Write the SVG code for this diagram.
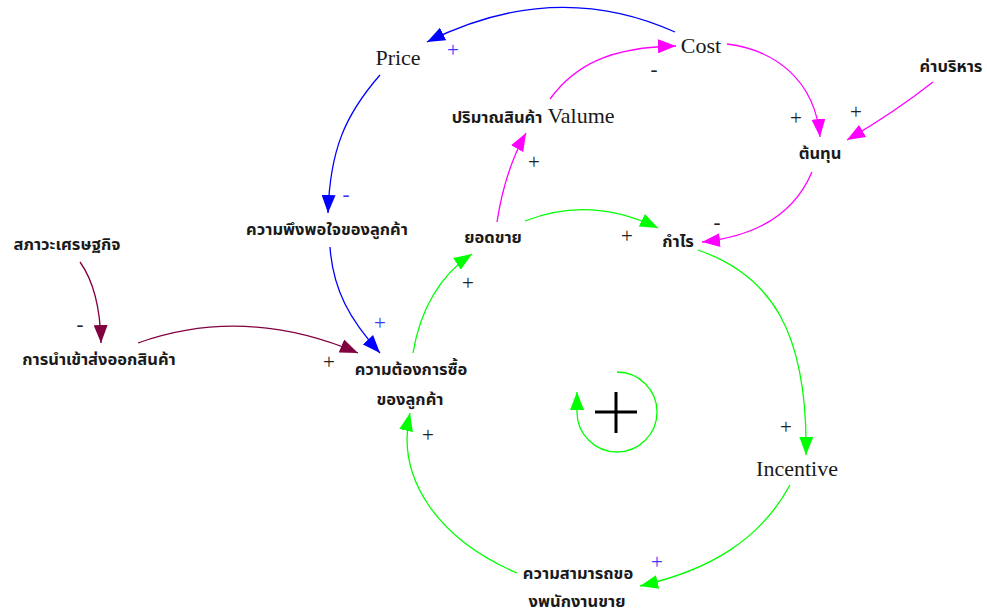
<svg xmlns="http://www.w3.org/2000/svg" width="987" height="613" viewBox="0 0 987 613">
<defs>
<style>
.th{font-family:"Noto Sans Thai","Tahoma","Noto Sans","DejaVu Sans",sans-serif;font-size:16.5px;font-weight:bold;fill:#1a1a1a;text-anchor:middle}
.en{font-family:"Liberation Serif","Times New Roman",serif;font-size:22px;fill:#1a1a1a;text-anchor:middle}
.sg{font-family:"Liberation Serif","Times New Roman",serif;font-size:21px;fill:#222;text-anchor:middle;dominant-baseline:central}
.sgb{fill:#3a3aff}
.c{fill:none;stroke-width:1.3}
.blue{stroke:#0000ff}
.mag{stroke:#ff00ff}
.grn{stroke:#00ff00}
.mar{stroke:#800040}
</style>
<marker id="aB" markerUnits="userSpaceOnUse" markerWidth="20" markerHeight="14" refX="18" refY="7" orient="auto"><path d="M0,0 L18,7 L0,14 z" fill="#0000ff"/></marker>
<marker id="aM" markerUnits="userSpaceOnUse" markerWidth="20" markerHeight="14" refX="18" refY="7" orient="auto"><path d="M0,0 L18,7 L0,14 z" fill="#ff00ff"/></marker>
<marker id="aG" markerUnits="userSpaceOnUse" markerWidth="20" markerHeight="14" refX="18" refY="7" orient="auto"><path d="M0,0 L18,7 L0,14 z" fill="#00ff00"/></marker>
<marker id="aR" markerUnits="userSpaceOnUse" markerWidth="20" markerHeight="14" refX="18" refY="7" orient="auto"><path d="M0,0 L18,7 L0,14 z" fill="#800040"/></marker>
</defs>
<rect width="987" height="613" fill="#ffffff"/>

<g id="connectors">
<path class="c blue" d="M675,32 Q555,-22 427,42" marker-end="url(#aB)"/>
<path class="c mag" d="M550,99 C575,65 610,47 676,46" marker-end="url(#aM)"/>
<path class="c mag" d="M727,44 C775,50 815,80 820,137" marker-end="url(#aM)"/>
<path class="c mag" d="M933,82 Q895,112 847,140" marker-end="url(#aM)"/>
<path class="c mag" d="M812,172 C795,212 760,236 702,242" marker-end="url(#aM)"/>
<path class="c mag" d="M497,222 Q505,170 526,133" marker-end="url(#aM)"/>
<path class="c blue" d="M380,75 C345,115 330,150 328,213" marker-end="url(#aB)"/>
<path class="c blue" d="M330,247 C333,290 350,320 380,353" marker-end="url(#aB)"/>
<path class="c mar" d="M80,262 Q100,290 101,343" marker-end="url(#aR)"/>
<path class="c mar" d="M138,343 Q245,305 358,353" marker-end="url(#aR)"/>
<path class="c grn" d="M413,353 C420,310 440,275 472,254" marker-end="url(#aG)"/>
<path class="c grn" d="M525,221 Q590,195 658,228" marker-end="url(#aG)"/>
<path class="c grn" d="M698,250 C770,275 808,330 806,455" marker-end="url(#aG)"/>
<path class="c grn" d="M790,485 C760,540 710,570 640,586" marker-end="url(#aG)"/>
<path class="c grn" d="M517,573 C440,540 395,480 410,413" marker-end="url(#aG)"/>
<path class="c grn" d="M617,372 A40,40 0 1 1 577,412 L577,392" marker-end="url(#aG)"/>
</g>

<g id="polarity">
<text class="sg sgb" x="453" y="50">+</text>
<text class="sg" x="654" y="69">-</text>
<text class="sg" x="796" y="118">+</text>
<text class="sg" x="856" y="112">+</text>
<text class="sg" x="534" y="162">+</text>
<text class="sg" x="717" y="222">-</text>
<text class="sg sgb" x="346" y="194">-</text>
<text class="sg sgb" x="380" y="323">+</text>
<text class="sg" x="80" y="324">-</text>
<text class="sg" x="329" y="362">+</text>
<text class="sg" x="468" y="283">+</text>
<text class="sg" x="627" y="236">+</text>
<text class="sg" x="786" y="427">+</text>
<text class="sg sgb" x="657" y="562">+</text>
<text class="sg" x="428" y="435">+</text>
</g>

<g id="loop-sign">
<path d="M595,412 H637 M616,392 V433" stroke="#000" stroke-width="3" fill="none"/>
</g>

<g id="price"><text class="en" x="398" y="65">Price</text></g>
<g id="cost"><text class="en" x="701" y="53">Cost</text></g>
<g id="volume"><text class="th" x="497" y="123">ปริมาณสินค้า</text><text class="en" x="581" y="123">Valume</text></g>
<g id="tontun"><text class="th" x="820" y="159">ต้นทุน</text></g>
<g id="kabriharn"><text class="th" x="951" y="72">ค่าบริหาร</text></g>
<g id="satisfaction"><text class="th" x="327" y="235">ความพึงพอใจของลูกค้า</text></g>
<g id="economy"><text class="th" x="67" y="250">สภาวะเศรษฐกิจ</text></g>
<g id="importexport"><text class="th" x="99" y="365">การนำเข้าส่งออกสินค้า</text></g>
<g id="demand"><text class="th" x="411" y="375">ความต้องการซื้อ</text><text class="th" x="410" y="405">ของลูกค้า</text></g>
<g id="sales"><text class="th" x="493" y="243">ยอดขาย</text></g>
<g id="profit"><text class="th" x="678" y="247">กำไร</text></g>
<g id="incentive"><text class="en" x="797" y="476">Incentive</text></g>
<g id="ability"><text class="th" x="578" y="579">ความสามารถขอ</text><text class="th" x="577" y="607">งพนักงานขาย</text></g>
</svg>
